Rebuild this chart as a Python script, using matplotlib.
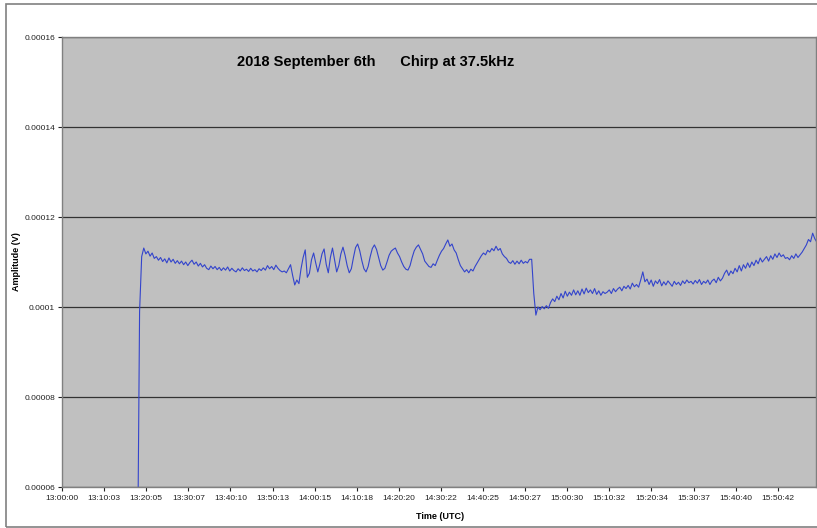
import matplotlib
matplotlib.use("Agg")
import matplotlib.pyplot as plt
from matplotlib.patches import Rectangle
import numpy as np

plt.rcParams['font.family'] = ['Liberation Sans', 'DejaVu Sans']

# Data: amplitude in units of 1e-7 V, sampled every 0.5 min starting 18.0 min after 13:00:00
t_start = 18.0
t_step = 0.5
amp_e7 = [
    400, 990, 1112, 1131, 1118, 1124, 1113, 1120, 1108, 1112,
    1104, 1110, 1101, 1107, 1098, 1109, 1100, 1106, 1097, 1103,
    1096, 1102, 1094, 1100, 1092, 1099, 1104, 1095, 1100, 1091,
    1097, 1089, 1094, 1086, 1083, 1091, 1085, 1090, 1083, 1088,
    1081, 1087, 1082, 1089, 1080, 1086, 1081, 1078, 1085, 1080,
    1087, 1081, 1084, 1079, 1086, 1080, 1083, 1078, 1085, 1081,
    1087, 1082, 1092, 1085, 1090, 1083, 1093, 1086, 1081, 1078,
    1080, 1076, 1085, 1094, 1070, 1049, 1060, 1052, 1085, 1110,
    1127, 1066, 1075, 1105, 1120, 1098, 1078, 1096, 1118, 1129,
    1095, 1076, 1110, 1131, 1105, 1078, 1092, 1118, 1133, 1115,
    1092, 1076, 1085, 1110, 1132, 1140, 1125, 1103, 1085, 1078,
    1090, 1112, 1130, 1138, 1128, 1110, 1092, 1082, 1086, 1100,
    1115, 1124, 1128, 1131, 1120, 1112, 1100, 1090, 1084, 1082,
    1092, 1110, 1125, 1133, 1138, 1128, 1118, 1102, 1096, 1090,
    1088, 1096, 1092, 1104, 1115, 1124, 1130, 1140, 1149, 1135,
    1140, 1127, 1120, 1105, 1092, 1085, 1078, 1083, 1076, 1084,
    1080, 1090, 1098, 1106, 1114, 1120, 1116, 1126, 1122, 1130,
    1125, 1135, 1126, 1130, 1118, 1112, 1108, 1100, 1097, 1103,
    1095, 1102, 1096, 1104, 1097, 1101, 1098, 1106, 1106, 1030,
    982, 1000, 994, 1001, 996, 1003, 997, 1010, 1018, 1012,
    1024, 1016, 1030, 1020, 1035, 1024, 1033, 1026, 1038, 1027,
    1036, 1026, 1040, 1029, 1042, 1032, 1038, 1030, 1041, 1028,
    1036, 1026, 1034, 1030, 1033, 1038, 1030, 1041, 1034, 1040,
    1044, 1036, 1046, 1041, 1048, 1040, 1053, 1045, 1050, 1044,
    1060, 1078, 1056, 1062, 1050, 1060, 1046, 1058, 1052, 1061,
    1047, 1056, 1049, 1058, 1052, 1046, 1057, 1050, 1055, 1048,
    1058, 1052, 1060, 1054, 1057, 1051, 1059, 1053, 1061, 1050,
    1057, 1053, 1060, 1050, 1058, 1062, 1054, 1066, 1058, 1064,
    1075, 1082, 1070, 1080, 1074, 1086, 1078, 1092, 1080, 1094,
    1086, 1098, 1088, 1100, 1092, 1104, 1096, 1109, 1100, 1106,
    1112, 1102, 1114, 1106, 1118, 1110, 1120, 1112, 1116, 1108,
    1110, 1105, 1114, 1108, 1118, 1110, 1116, 1122, 1130, 1138,
    1150, 1145, 1164, 1152, 1144,
]

tick_labels = ["13:00:00", "13:10:03", "13:20:05", "13:30:07", "13:40:10",
               "13:50:13", "14:00:15", "14:10:18", "14:20:20", "14:30:22",
               "14:40:25", "14:50:27", "15:00:30", "15:10:32", "15:20:34",
               "15:30:37", "15:40:40", "15:50:42"]
tick_step_min = 10.04

y_ticks = [0.00006, 0.00008, 0.0001, 0.00012, 0.00014, 0.00016]
y_tick_labels = ["0.00006", "0.00008", "0.0001", "0.00012", "0.00014", "0.00016"]

title = "2018 September 6th      Chirp at 37.5kHz"

t = t_start + t_step * np.arange(len(amp_e7))
amp = np.array(amp_e7) * 1e-7

fig = plt.figure(figsize=(8.17, 5.28), dpi=100)
fig.patch.set_facecolor('white')
fig.add_artist(Rectangle((6/817, 1/528), 1.02, 523/528, transform=fig.transFigure,
                         fill=False, edgecolor='#808080', linewidth=1.2))

ax = fig.add_axes([62/817, 1 - 487/528, 754/817, 450/528])
ax.set_facecolor('#C0C0C0')
ax.plot(t, amp, color='#3344CC', linewidth=0.8)

ax.set_xlim(0, 179.8)
ax.set_ylim(0.00006, 0.00016)
ax.set_yticks(y_ticks)
ax.set_yticklabels(y_tick_labels)
ax.set_xticks([i * tick_step_min for i in range(len(tick_labels))])
ax.set_xticklabels(tick_labels)
ax.tick_params(axis='both', labelsize=6, colors='#222222', length=3, width=0.8, pad=3)
ax.tick_params(axis='y', pad=2)

ax.yaxis.grid(True, color='#333333', linewidth=0.9)
ax.set_axisbelow(True)
for side in ['left', 'bottom', 'top', 'right']:
    ax.spines[side].set_color('#808080')
    ax.spines[side].set_linewidth(1.0)

ax.set_xlabel("Time (UTC)", fontsize=6.5, fontweight='bold')
ax.xaxis.set_label_coords((440 - 62) / 754, -(512 - 487) / 450)
ax.set_ylabel("Amplitude (V)", fontsize=6.5, fontweight='bold')
ax.yaxis.set_label_coords(-(62 - 21) / 754, 0.5)

ax.text(0.232, 0.944, title, transform=ax.transAxes, fontsize=10.5,
        fontweight='bold', ha='left', va='center', color='black')

fig.savefig("out.png", dpi=100)
